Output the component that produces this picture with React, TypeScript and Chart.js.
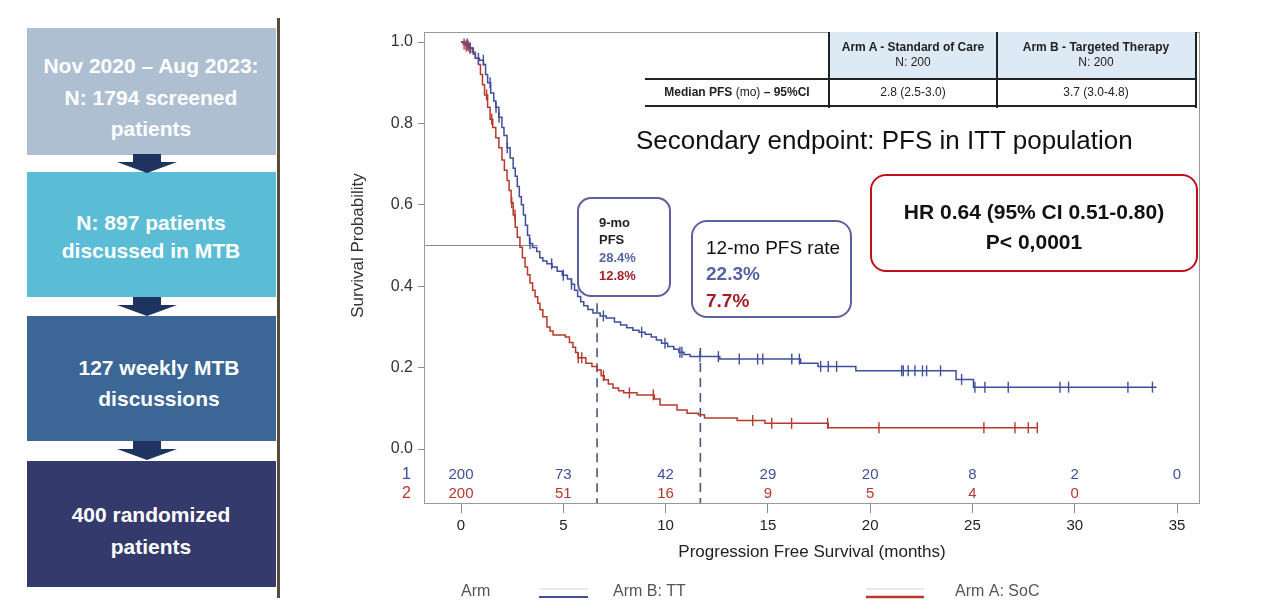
import React, { useEffect, useRef } from "react";
import { Chart, registerables } from "chart.js";

Chart.register(...registerables);

const FONT = "'Liberation Sans', Arial, Helvetica, sans-serif";

// ---- Kaplan-Meier data ----
// Arm B: Targeted Therapy
const armBTimes = [0, 0.2, 0.4, 0.6, 0.7, 0.9, 1.1, 1.2, 1.3, 1.45, 1.6, 1.7, 1.85, 2.0, 2.1, 2.25, 2.4, 2.55, 2.65, 2.75, 2.85, 2.95, 3.05, 3.15, 3.25, 3.35, 3.5, 3.7, 3.85, 4.0, 4.2, 4.45, 4.7, 4.95, 5.2, 5.4, 5.55, 5.7, 5.85, 6.0, 6.2, 6.45, 6.8, 7.1, 7.5, 7.8, 8.1, 8.4, 8.7, 9.0, 9.3, 9.55, 9.8, 10.1, 10.4, 10.65, 10.9, 11.2, 12.65, 16.6, 17.45, 19.3, 24.2, 25.05, 34.0];
const armBSurv = [1.0, 0.995, 0.985, 0.97, 0.96, 0.955, 0.945, 0.92, 0.9, 0.875, 0.855, 0.84, 0.815, 0.79, 0.77, 0.74, 0.715, 0.69, 0.67, 0.645, 0.62, 0.6, 0.575, 0.55, 0.525, 0.505, 0.495, 0.485, 0.47, 0.462, 0.455, 0.447, 0.437, 0.427, 0.418, 0.405, 0.39, 0.375, 0.362, 0.352, 0.343, 0.334, 0.327, 0.322, 0.312, 0.305, 0.298, 0.292, 0.287, 0.282, 0.275, 0.268, 0.26, 0.252, 0.245, 0.238, 0.232, 0.227, 0.221, 0.211, 0.203, 0.192, 0.171, 0.152, 0.152];
const armBCensorTimes = [0.3, 0.44, 0.85, 1.09, 1.42, 1.71, 1.86, 2.26, 3.37, 4.43, 5.0, 5.4, 6.96, 8.83, 9.97, 10.7, 10.8, 11.68, 12.58, 13.6, 14.5, 14.75, 16.17, 16.54, 17.58, 17.95, 18.36, 21.54, 21.62, 21.86, 22.19, 22.56, 22.76, 23.44, 24.47, 25.12, 25.61, 26.75, 29.28, 29.7, 32.6, 33.8];

// Arm A: Standard of Care
const armATimes = [0, 0.1, 0.25, 0.4, 0.55, 0.7, 0.85, 0.95, 1.05, 1.15, 1.3, 1.42, 1.55, 1.7, 1.85, 2.0, 2.12, 2.25, 2.35, 2.45, 2.55, 2.65, 2.75, 2.88, 3.0, 3.13, 3.25, 3.37, 3.5, 3.62, 3.75, 3.86, 4.0, 4.2, 4.35, 4.5, 5.1, 5.3, 5.47, 5.6, 5.72, 6.1, 6.4, 6.65, 6.85, 7.0, 7.2, 7.43, 7.7, 7.95, 8.6, 9.45, 9.73, 10.56, 11.05, 11.6, 11.9, 13.5, 14.86, 17.95, 28.2];
const armASurv = [1.0, 0.995, 0.99, 0.985, 0.975, 0.96, 0.945, 0.92, 0.895, 0.87, 0.84, 0.81, 0.79, 0.765, 0.74, 0.71, 0.685, 0.66, 0.635, 0.605, 0.575, 0.545, 0.52, 0.496, 0.47, 0.447, 0.428, 0.408, 0.39, 0.374, 0.358, 0.342, 0.325, 0.3, 0.29, 0.28, 0.275, 0.262, 0.25, 0.237, 0.224, 0.211, 0.203, 0.194, 0.18, 0.17, 0.16, 0.15, 0.143, 0.138, 0.133, 0.123, 0.108, 0.096, 0.088, 0.084, 0.076, 0.07, 0.063, 0.052, 0.052];
const armACensorTimes = [0.15, 0.25, 0.35, 0.45, 1.25, 1.5, 2.48, 2.64, 5.73, 5.9, 6.96, 8.23, 9.4, 14.26, 15.19, 16.16, 17.92, 20.43, 25.56, 27.08, 27.73, 28.17];

// Numbers at risk
const riskTimes = [0, 5, 10, 15, 20, 25, 30, 35];
const riskArmB = [200, 73, 42, 29, 20, 8, 2, 0];
const riskArmA = [200, 51, 16, 9, 5, 4, 0];

// Axes
const xTickValues = [0, 5, 10, 15, 20, 25, 30, 35];
const yTickValues = [0, 0.2, 0.4, 0.6, 0.8, 1.0];

// Reference lines
const medianSurv = 0.5;
const medianLineEnd = 3.75;
const landmarkTimes = [6.65, 11.7];
const landmarkTops = [0.358, 0.248];

const BLUE = "#3f4f9d";
const RED = "#b8382d";

function survivalAt(times: number[], surv: number[], t: number) {
  let s = surv[0];
  for (let i = 0; i < times.length; i++) if (times[i] <= t) s = surv[i];
  return s;
}

const extrasPlugin = {
  id: "kmExtras",
  afterDraw(chart: any) {
    const { ctx, chartArea: a, scales } = chart;
    const x = scales.x;
    const y = scales.y;
    ctx.save();
    // frame
    ctx.strokeStyle = "#9a9a9a";
    ctx.lineWidth = 1;
    ctx.strokeRect(a.left + 0.5, a.top + 0.5, a.right - a.left - 1, a.bottom - a.top - 1);

    // numbers at risk
    ctx.font = `15px ${FONT}`;
    ctx.textAlign = "center";
    ctx.textBaseline = "middle";
    const r1 = a.bottom - 29;
    const r2 = a.bottom - 10;
    ctx.fillStyle = BLUE;
    riskArmB.forEach((n, i) => ctx.fillText(String(n), x.getPixelForValue(riskTimes[i]), r1));
    ctx.fillStyle = RED;
    riskArmA.forEach((n, i) => ctx.fillText(String(n), x.getPixelForValue(riskTimes[i]), r2));
    ctx.font = `16px ${FONT}`;
    ctx.textAlign = "right";
    ctx.fillStyle = BLUE;
    ctx.fillText("1", 411, r1);
    ctx.fillStyle = RED;
    ctx.fillText("2", 411, r2);

    // y title
    ctx.save();
    ctx.translate(358, y.getPixelForValue(0.5));
    ctx.rotate(-Math.PI / 2);
    ctx.textAlign = "center";
    ctx.fillStyle = "#333";
    ctx.font = `17px ${FONT}`;
    ctx.fillText("Survival Probability", 0, 0);
    ctx.restore();

    // x title
    ctx.textAlign = "center";
    ctx.fillStyle = "#222";
    ctx.font = `17px ${FONT}`;
    ctx.fillText("Progression Free Survival (months)", (a.left + a.right) / 2, 552);

    // legend
    ctx.font = `16px ${FONT}`;
    ctx.textAlign = "left";
    ctx.fillStyle = "#555";
    ctx.fillText("Arm", 461, 592);
    const seg = (x1: number, x2: number, yy: number, c: string, w: number) => {
      ctx.beginPath();
      ctx.strokeStyle = c;
      ctx.lineWidth = w;
      ctx.moveTo(x1, yy);
      ctx.lineTo(x2, yy);
      ctx.stroke();
    };
    seg(539, 588, 589, "#d4d4d4", 1);
    seg(539, 588, 597, BLUE, 2.2);
    ctx.fillText("Arm B: TT", 613, 592);
    seg(866, 924, 589, "#d4d4d4", 1);
    seg(866, 924, 597, RED, 2.5);
    ctx.fillText("Arm A: SoC", 955, 592);
    ctx.restore();
  },
};

function Txt(props: {
  x: number; y: number; size: number; text: string; bold?: boolean; color?: string; align?: "left" | "center"; font?: string;
}) {
  const { x, y, size, text, bold, color = "#111", align = "left" } = props;
  const style: any = {
    position: "absolute",
    top: y - size / 2,
    fontSize: size,
    lineHeight: 1,
    fontFamily: props.font || FONT,
    fontWeight: bold ? "bold" : "normal",
    color,
    whiteSpace: "nowrap",
  };
  if (align === "center") {
    style.left = x - 300;
    style.width = 600;
    style.textAlign = "center";
  } else {
    style.left = x;
  }
  return <div style={style}>{text}</div>;
}

function Rect(props: { l: number; t: number; w: number; h: number; bg?: string; extra?: any }) {
  return (
    <div
      style={{
        position: "absolute",
        left: props.l,
        top: props.t,
        width: props.w,
        height: props.h,
        background: props.bg,
        boxSizing: "border-box",
        ...(props.extra || {}),
      }}
    />
  );
}

function Arrow({ top }: { top: number }) {
  return (
    <svg style={{ position: "absolute", left: 110, top }} width={74} height={20}>
      <polygon points="23,0 51,0 51,8 67,8 37,19 7,8 23,8" fill="#1f3360" />
    </svg>
  );
}

const flowBoxes = [
  { top: 28, h: 127, bg: "#adbfd0", lines: ["Nov 2020 \u2013 Aug 2023:", "N: 1794 screened", "patients"], ys: [65, 97, 128], dx: 0 },
  { top: 172, h: 125, bg: "#5bbdd5", lines: ["N: 897 patients", "discussed in MTB"], ys: [222, 250], dx: 0 },
  { top: 316, h: 125, bg: "#3c6696", lines: ["127 weekly MTB", "discussions"], ys: [367, 398], dx: 8 },
  { top: 461, h: 126, bg: "#343a6b", lines: ["400 randomized", "patients"], ys: [514, 546], dx: 0 },
];

export default function App() {
  const canvasRef = useRef<HTMLCanvasElement | null>(null);

  useEffect(() => {
    const canvas = canvasRef.current;
    if (!canvas) return;
    const curve = (times: number[], surv: number[]) => times.map((t, i) => ({ x: t, y: surv[i] }));
    const censor = (ct: number[], times: number[], surv: number[]) =>
      ct.map((t) => ({ x: t, y: survivalAt(times, surv, t) }));

    const chart = new Chart(canvas, {
      type: "scatter",
      data: {
        datasets: [
          {
            label: "Arm B: TT",
            data: curve(armBTimes, armBSurv),
            showLine: true,
            stepped: "before",
            borderColor: BLUE,
            borderWidth: 1.5,
            pointRadius: 0,
            order: 1,
          },
          {
            label: "Arm A: SoC",
            data: curve(armATimes, armASurv),
            showLine: true,
            stepped: "before",
            borderColor: RED,
            borderWidth: 1.5,
            pointRadius: 0,
            order: 2,
          },
          {
            label: "B censored",
            data: censor(armBCensorTimes, armBTimes, armBSurv),
            showLine: false,
            pointStyle: "line",
            rotation: 90,
            pointRadius: 5.5,
            pointBorderWidth: 1.4,
            borderColor: BLUE,
            pointBorderColor: BLUE,
            order: 0,
          },
          {
            label: "A censored",
            data: censor(armACensorTimes, armATimes, armASurv),
            showLine: false,
            pointStyle: "line",
            rotation: 90,
            pointRadius: 5.5,
            pointBorderWidth: 1.4,
            borderColor: RED,
            pointBorderColor: RED,
            order: 0,
          },
          {
            label: "median",
            data: [
              { x: -1.81, y: medianSurv },
              { x: medianLineEnd, y: medianSurv },
            ],
            showLine: true,
            borderColor: "#8a8a8a",
            borderWidth: 1,
            pointRadius: 0,
            order: 5,
          },
          ...landmarkTimes.map((t, i) => ({
            label: "landmark" + i,
            data: [
              { x: t, y: landmarkTops[i] },
              { x: t, y: -0.14 },
            ],
            showLine: true,
            borderColor: "#4a5780",
            borderWidth: 1.6,
            borderDash: [9, 6],
            pointRadius: 0,
            order: 4,
          })),
        ],
      },
      options: {
        animation: false,
        responsive: false,
        maintainAspectRatio: false,
        layout: { padding: { left: 364, top: 32, right: 69, bottom: 0 } },
        plugins: { legend: { display: false }, tooltip: { enabled: false } },
        scales: {
          x: {
            type: "linear",
            min: -1.81,
            max: 36.124,
            afterBuildTicks: (s: any) => {
              s.ticks = xTickValues.map((v) => ({ value: v }));
            },
            afterFit: (s: any) => {
              s.height = 110;
            },
            ticks: {
              autoSkip: false,
              maxRotation: 0,
              padding: 4,
              color: "#222",
              font: { family: FONT, size: 15 },
              callback: (v: any) => String(v),
            },
            grid: { display: true, drawOnChartArea: false, drawTicks: true, tickLength: 9, tickColor: "#8c8c8c", color: "#8c8c8c" },
            border: { display: false },
          },
          y: {
            type: "linear",
            min: -0.1351,
            max: 1.0246,
            afterBuildTicks: (s: any) => {
              s.ticks = yTickValues.map((v) => ({ value: v }));
            },
            afterFit: (s: any) => {
              s.width = 60;
            },
            ticks: {
              padding: 5,
              color: "#333",
              font: { family: FONT, size: 16 },
              callback: (v: any) => Number(v).toFixed(1),
            },
            grid: { display: true, drawOnChartArea: false, drawTicks: true, tickLength: 6, tickColor: "#8c8c8c", color: "#8c8c8c" },
            border: { display: false },
          },
        },
      },
      plugins: [extrasPlugin],
    } as any);
    return () => chart.destroy();
  }, []);

  const tableLine = "#222";
  return (
    <div style={{ position: "fixed", left: 0, top: 0, width: 1269, height: 614, background: "#fff", overflow: "hidden" }}>
      {/* Flowchart */}
      {flowBoxes.map((b, i) => (
        <React.Fragment key={i}>
          <Rect l={27} t={b.top} w={249} h={b.h} bg={b.bg} />
          {b.lines.map((ln, j) => (
            <Txt key={j} x={151 + b.dx} y={b.ys[j]} size={21} text={ln} bold color="#fff" align="center" />
          ))}
        </React.Fragment>
      ))}
      <Arrow top={154} />
      <Arrow top={297} />
      <Arrow top={441} />
      <Rect l={277} t={18} w={3} h={580} bg="#5b4b3c" />

      <canvas ref={canvasRef} width={1269} height={614} style={{ position: "absolute", left: 0, top: 0, width: 1269, height: 614 }} />

      {/* Median table */}
      <Rect l={829} t={32} w={168} h={47} bg="#dde9f5" />
      <Rect l={997} t={32} w={199} h={47} bg="#dde9f5" />
      <Rect l={645} t={78} w={552} h={1.5} bg={tableLine} />
      <Rect l={645} t={105} w={552} h={1.5} bg={tableLine} />
      <Rect l={828} t={32} w={1.5} h={76} bg={tableLine} />
      <Rect l={996} t={32} w={1.5} h={76} bg={tableLine} />
      <Rect l={1195} t={32} w={1.5} h={76} bg={tableLine} />
      <Txt x={913} y={47} size={12} bold text="Arm A - Standard of Care" align="center" color="#222" />
      <Txt x={913} y={62} size={12} text="N: 200" align="center" color="#222" />
      <Txt x={1096} y={47} size={12} bold text="Arm B - Targeted Therapy" align="center" color="#222" />
      <Txt x={1096} y={62} size={12} text="N: 200" align="center" color="#222" />
      <div
        style={{
          position: "absolute", left: 637, width: 200, top: 86, fontSize: 12, lineHeight: 1,
          fontFamily: FONT, color: "#222", textAlign: "center", whiteSpace: "nowrap",
        }}
      >
        <b>Median PFS</b> (mo) <b>– 95%CI</b>
      </div>
      <Txt x={913} y={92} size={12} text="2.8 (2.5-3.0)" align="center" color="#222" />
      <Txt x={1096} y={92} size={12} text="3.7 (3.0-4.8)" align="center" color="#222" />

      {/* Subtitle */}
      <Txt x={636} y={140} size={26} text="Secondary endpoint: PFS in ITT population" color="#111" />

      {/* HR box */}
      <Rect l={870} t={174} w={328} h={98} bg="#fff" extra={{ border: "2.5px solid #c0101c", borderRadius: 16 }} />
      <Txt x={1034} y={211} size={21} bold text="HR 0.64 (95% CI 0.51-0.80)" align="center" color="#111" />
      <Txt x={1034} y={241} size={21} bold text="P< 0,0001" align="center" color="#111" />

      {/* 9-mo box */}
      <Rect l={577} t={197} w={94} h={100} bg="#fff" extra={{ border: "2.5px solid #5d5f9e", borderRadius: 14 }} />
      <Txt x={599} y={222} size={13} bold text="9-mo" color="#222" />
      <Txt x={599} y={239} size={13} bold text="PFS" color="#222" />
      <Txt x={599} y={257} size={13} bold text="28.4%" color="#5565a8" />
      <Txt x={599} y={275} size={13} bold text="12.8%" color="#a3222b" />

      {/* 12-mo box */}
      <Rect l={691} t={220} w={161} h={98} bg="#fff" extra={{ border: "2.5px solid #5d5f9e", borderRadius: 16 }} />
      <Txt x={706} y={247} size={19} text="12-mo PFS rate" color="#111" />
      <Txt x={706} y={273} size={19} bold text="22.3%" color="#5464a4" />
      <Txt x={706} y={300} size={19} bold text="7.7%" color="#a81c24" />
    </div>
  );
}
